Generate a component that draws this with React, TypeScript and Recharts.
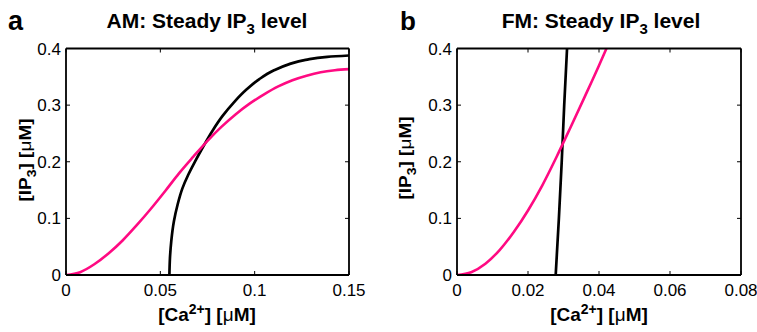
import React from 'react';
import { LineChart, Line, XAxis, YAxis } from 'recharts';

// ---------- Data ----------
// Panel a (AM)
const amPinkCa = [0, 0.0075, 0.015, 0.0225, 0.03, 0.0375, 0.045, 0.0525, 0.06, 0.0675, 0.075, 0.0825, 0.09, 0.0975, 0.105, 0.1125, 0.12, 0.1275, 0.135, 0.1425, 0.15];
const amPinkIp3 = [0, 0.005, 0.019, 0.038, 0.061, 0.088, 0.117, 0.148, 0.18, 0.209, 0.237, 0.262, 0.284, 0.303, 0.319, 0.333, 0.344, 0.352, 0.358, 0.3615, 0.3635];
const amBlackCa = [0.0548, 0.0551, 0.0558, 0.0572, 0.0592, 0.0617, 0.0648, 0.0685, 0.0726, 0.0775, 0.083, 0.089, 0.0955, 0.1025, 0.11, 0.118, 0.127, 0.1385, 0.15];
const amBlackIp3 = [0, 0.03, 0.06, 0.095, 0.125, 0.153, 0.177, 0.201, 0.226, 0.254, 0.281, 0.305, 0.327, 0.346, 0.361, 0.372, 0.38, 0.3853, 0.3876];

// Panel b (FM)
const fmPinkCa = [0, 0.004, 0.008, 0.012, 0.016, 0.02, 0.024, 0.028, 0.032, 0.036, 0.04, 0.0421];
const fmPinkIp3 = [0, 0.005, 0.02, 0.044, 0.076, 0.114, 0.158, 0.208, 0.261, 0.315, 0.37, 0.4];
const fmBlackCa = [0.0278, 0.0287, 0.0295, 0.0302, 0.031];
const fmBlackIp3 = [0, 0.1, 0.2, 0.3, 0.4];

// Axes
const amXTicks = [0, 0.05, 0.1, 0.15];
const fmXTicks = [0, 0.02, 0.04, 0.06, 0.08];
const yTicks = [0, 0.1, 0.2, 0.3, 0.4];

const PINK = '#ff0a82';
const FONT = '"Liberation Sans", Arial, Helvetica, sans-serif';

const zip = (xs: number[], ys: number[]) => xs.map((x, i) => ({ x, y: ys[i] }));

const BottomTick = (props: any) => {
  const { x, y, payload } = props;
  return (
    <text x={x} y={y + 20.5} textAnchor="middle" fontSize={17} fontFamily={FONT} fill="#000">
      {String(payload.value)}
    </text>
  );
};

const LeftTick = (props: any) => {
  const { x, y, payload } = props;
  return (
    <text x={x - 5} y={y + 6} textAnchor="end" fontSize={17} fontFamily={FONT} fill="#000">
      {String(payload.value)}
    </text>
  );
};

const NoTick = () => <g />;

type PanelProps = {
  left: number;
  width: number;
  yAxisWidth: number;
  marginRight: number;
  xDomain: [number, number];
  xTicks: number[];
  pink: { x: number; y: number }[];
  black: { x: number; y: number }[];
  blackCurve: 'monotoneY' | 'linear';
};

const axisLineStyle = { stroke: '#000', strokeWidth: 1.8 };
const tickLineStyle = { stroke: '#000', strokeWidth: 1 };

const Panel = ({ left, width, yAxisWidth, marginRight, xDomain, xTicks, pink, black, blackCurve }: PanelProps) => (
  <div style={{ position: 'absolute', left, top: 0 }}>
    <LineChart width={width} height={332} margin={{ top: 47.5, right: marginRight, bottom: 0, left: 0 }}>
      <XAxis
        xAxisId="b"
        dataKey="x"
        type="number"
        domain={xDomain}
        ticks={xTicks}
        interval={0}
        allowDataOverflow
        height={57}
        tickSize={-4}
        tickMargin={4}
        tick={BottomTick}
        axisLine={axisLineStyle}
        tickLine={tickLineStyle}
      />
      <XAxis
        xAxisId="t"
        orientation="top"
        dataKey="x"
        type="number"
        domain={xDomain}
        ticks={xTicks}
        interval={0}
        allowDataOverflow
        height={1}
        tickSize={-4}
        tick={NoTick}
        axisLine={axisLineStyle}
        tickLine={tickLineStyle}
      />
      <YAxis
        yAxisId="l"
        type="number"
        domain={[0, 0.4]}
        ticks={yTicks}
        interval={0}
        allowDataOverflow
        width={yAxisWidth}
        tickSize={-4}
        tickMargin={4}
        tick={LeftTick}
        axisLine={axisLineStyle}
        tickLine={tickLineStyle}
      />
      <YAxis
        yAxisId="r"
        orientation="right"
        type="number"
        domain={[0, 0.4]}
        ticks={yTicks}
        interval={0}
        allowDataOverflow
        width={1}
        tickSize={-4}
        tick={NoTick}
        axisLine={axisLineStyle}
        tickLine={tickLineStyle}
      />
      <Line
        xAxisId="b"
        yAxisId="l"
        data={black}
        dataKey="y"
        type={blackCurve}
        stroke="#000"
        strokeWidth={2.7}
        dot={false}
        activeDot={false}
        isAnimationActive={false}
      />
      <Line
        xAxisId="b"
        yAxisId="l"
        data={pink}
        dataKey="y"
        type="monotoneX"
        stroke={PINK}
        strokeWidth={2.6}
        dot={false}
        activeDot={false}
        isAnimationActive={false}
      />
    </LineChart>
  </div>
);

const Labels = () => (
  <svg width={757} height={332} style={{ position: 'absolute', left: 0, top: 0, pointerEvents: 'none' }}>
    <g fontFamily={FONT} fontWeight="bold" fill="#000">
      <text x={8} y={30} fontSize={27}>a</text>
      <text x={400} y={30} fontSize={26}>b</text>

      <text x={207} y={28} fontSize={21} textAnchor="middle">
        AM: Steady IP<tspan fontSize={15} dy={6}>3</tspan><tspan dy={-6}> level</tspan>
      </text>
      <text x={601} y={28} fontSize={21} textAnchor="middle">
        FM: Steady IP<tspan fontSize={15} dy={6}>3</tspan><tspan dy={-6}> level</tspan>
      </text>

      <text x={207} y={321} fontSize={19} textAnchor="middle">
        [Ca<tspan fontSize={14} dy={-7}>2+</tspan><tspan dy={7}>] [</tspan><tspan fontWeight="normal">μ</tspan>M]
      </text>
      <text x={599} y={321} fontSize={19} textAnchor="middle">
        [Ca<tspan fontSize={14} dy={-7}>2+</tspan><tspan dy={7}>] [</tspan><tspan fontWeight="normal">μ</tspan>M]
      </text>

      <text transform="translate(31,160) rotate(-90) scale(1,0.85)" fontSize={19} textAnchor="middle">
        [IP<tspan fontSize={14} dy={6}>3</tspan><tspan dy={-6}>] [</tspan><tspan fontWeight="normal">μ</tspan>M]
      </text>
      <text transform="translate(411,158) rotate(-90) scale(1,0.85)" fontSize={19} textAnchor="middle">
        [IP<tspan fontSize={14} dy={6}>3</tspan><tspan dy={-6}>] [</tspan><tspan fontWeight="normal">μ</tspan>M]
      </text>
    </g>
  </svg>
);

export default function App() {
  return (
    <div style={{ position: 'absolute', left: 0, top: 0, width: 757, height: 332, background: '#fff' }}>
      <Panel
        left={0}
        width={378}
        yAxisWidth={66}
        marginRight={28}
        xDomain={[0, 0.15]}
        xTicks={amXTicks}
        pink={zip(amPinkCa, amPinkIp3)}
        black={zip(amBlackCa, amBlackIp3)}
        blackCurve="monotoneY"
      />
      <Panel
        left={378}
        width={379}
        yAxisWidth={79}
        marginRight={15}
        xDomain={[0, 0.08]}
        xTicks={fmXTicks}
        pink={zip(fmPinkCa, fmPinkIp3)}
        black={zip(fmBlackCa, fmBlackIp3)}
        blackCurve="linear"
      />
      <Labels />
    </div>
  );
}
